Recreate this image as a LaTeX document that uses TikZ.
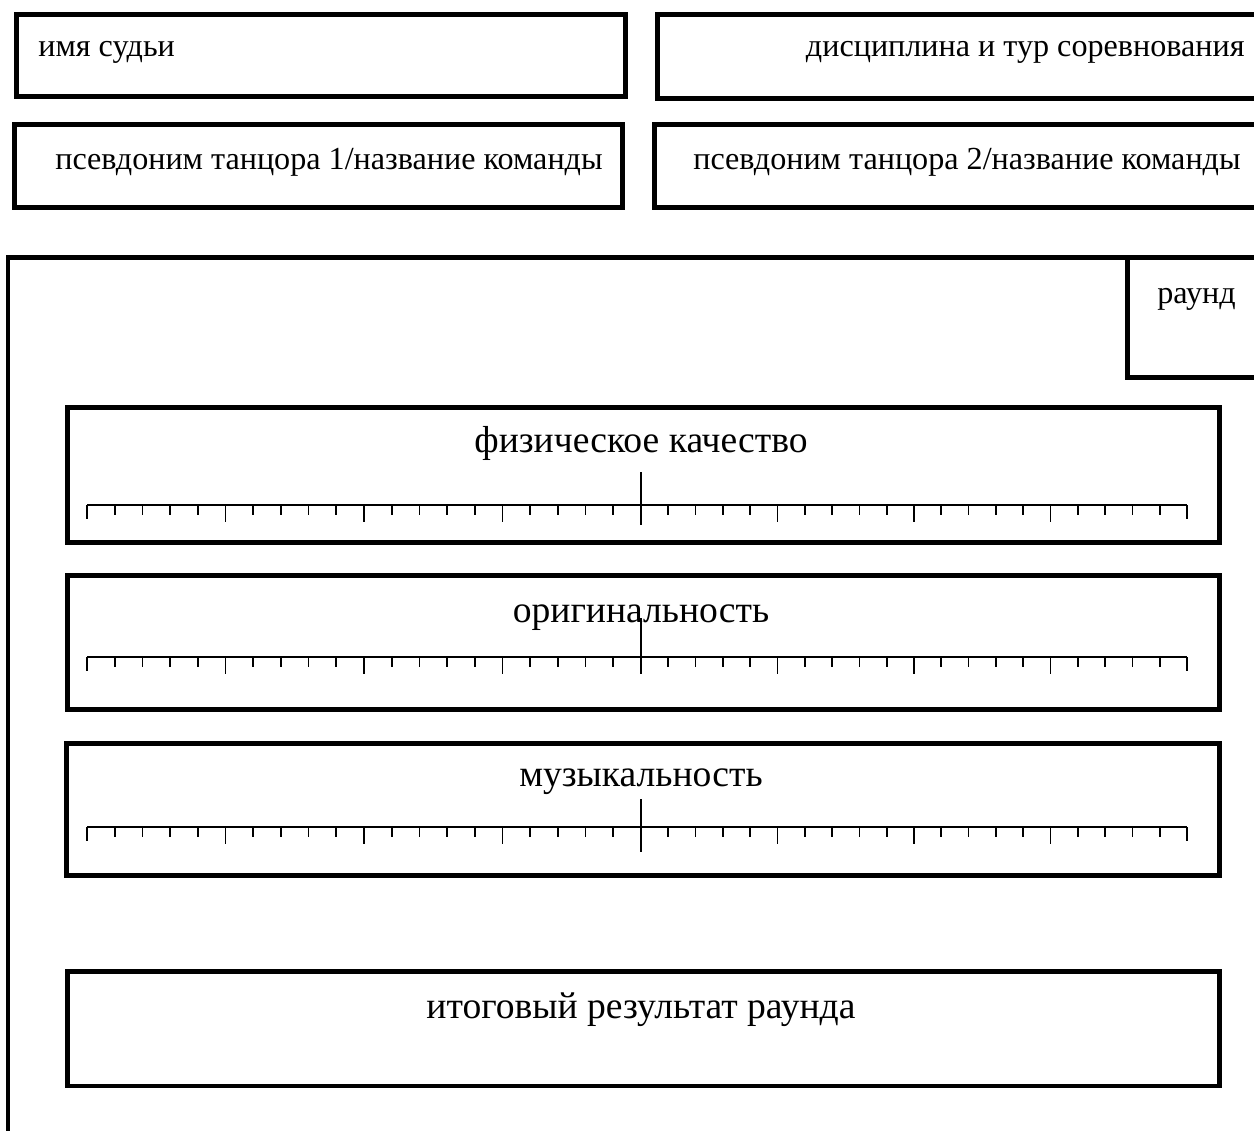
\documentclass[tikz,border=0pt]{standalone}
\usepackage{fontspec}
\setmainfont{Liberation Serif}
\usepackage{tikz}

\newcommand{\smalltxt}{\fontsize{18.3}{22}\selectfont}
\newcommand{\bigtxt}{\fontsize{21.4}{25}\selectfont}

\begin{document}
\begin{tikzpicture}[x=0.02cm,y=0.02cm]
    \tikzstyle{every node}+=[inner sep=0pt]
    \tikzstyle{frame}=[black, line width=2.8pt]
    \tikzstyle{ruler}=[black, line width=1.1pt]
    \tikzstyle{tick}=[black, line width=1pt]
    \clip (0,0) rectangle (1254,-1130);
    % header boxes
    \draw [frame] (16.5,-14.5) rectangle (625.5,-96.5);
    \draw (38,-56) node [anchor=base west] (judge) {\smalltxt имя судьи};
    \draw [frame] (657.5,-14.5) rectangle (1300,-98.5);
    \draw (1245,-56) node [anchor=base east] (discipline) {\smalltxt дисциплина и тур соревнования};
    \draw [frame] (14.5,-124.5) rectangle (622.5,-207.5);
    \draw (55,-169) node [anchor=base west] (dancerone) {\smalltxt псевдоним танцора 1/название команды};
    \draw [frame] (654.5,-124.5) rectangle (1300,-207.5);
    \draw (693,-169) node [anchor=base west] (dancertwo) {\smalltxt псевдоним танцора 2/название команды};
    % round sheet
    \draw [frame] (8,-1200) -- (8,-257.5) -- (1300,-257.5);
    \draw [frame] (1300,-377.5) -- (1127.5,-377.5) -- (1127.5,-257.5);
    \draw (1157,-303) node [anchor=base west] (round) {\smalltxt раунд};
    % criteria
    \draw [frame] (67.5,-407.5) rectangle (1219.5,-542.5);
    \draw (641,-452) node [anchor=base] (physical) {\bigtxt физическое качество};
    \draw [frame] (67.5,-575.5) rectangle (1219.5,-709.5);
    \draw (641,-622) node [anchor=base] (originality) {\bigtxt оригинальность};
    \draw [frame] (66.5,-743.5) rectangle (1219.5,-875.5);
    \draw (641,-786) node [anchor=base] (musicality) {\bigtxt музыкальность};
    \foreach \ry/\ctop/\cbot in {505/472/525, 657/618/670, 827/799/852} {
        \draw [ruler] (87,-\ry) -- (1187,-\ry);
        \foreach \i in {1,...,39} {
            \pgfmathsetmacro\tx{\i<=20 ? 87+27.7*\i : 641+27.3*(\i-20)}
            \pgfmathsetmacro\tl{mod(\i,5)==0 ? 17 : 10}
            \draw [tick] (\tx,-\ry) -- ++(0,-\tl);
        }
        \draw [tick] (87,-\ry) -- ++(0,-14);
        \draw [tick] (1187,-\ry) -- ++(0,-14);
        \draw [black, line width=1.4pt] (641,-\ctop) -- (641,-\cbot);
    }
    % total
    \draw [frame] (67.5,-971.5) rectangle (1219.5,-1086);
    \draw (641,-1018) node [anchor=base] (total) {\bigtxt итоговый результат раунда};
\end{tikzpicture}
\end{document}
